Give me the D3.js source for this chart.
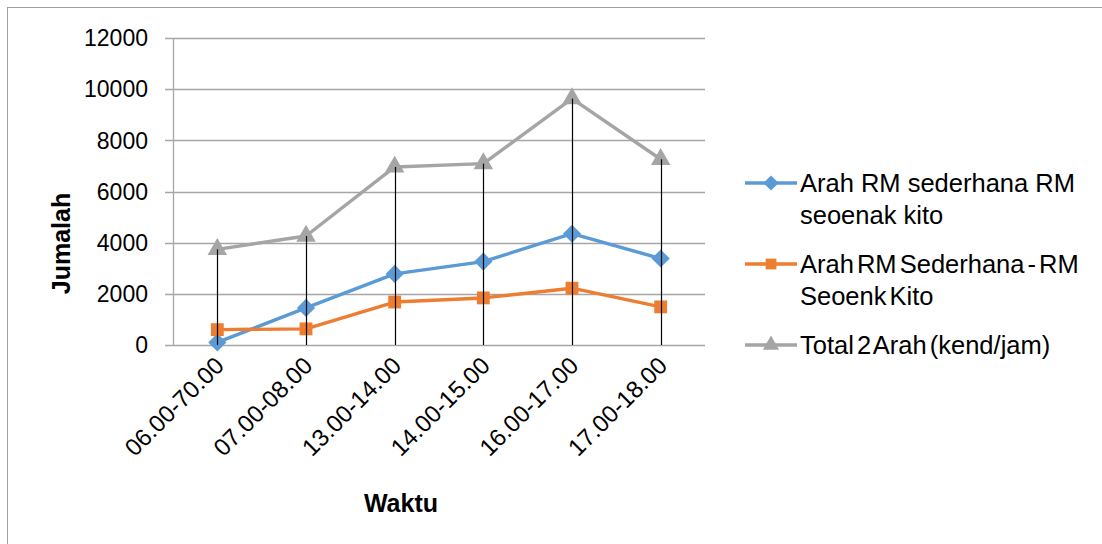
<!DOCTYPE html>
<html><head><meta charset="utf-8">
<script src="https://cdn.jsdelivr.net/npm/d3@7"></script>
<style>body{margin:0;background:#fff}svg{display:block;font-family:"Liberation Sans",Arial,sans-serif}</style>
</head><body><svg id="c" width="1102" height="544"></svg>
<script>
const categories = ["06.00-70.00","07.00-08.00","13.00-14.00","14.00-15.00","16.00-17.00","17.00-18.00"];
const seriesNames = ["Arah RM sederhana RM|seoenak kito","Arah RM Sederhana - RM|Seoenk Kito","Total 2 Arah (kend/jam)"];
const arahA = [100, 1450, 2780, 3260, 4350, 3380];
const arahB = [600, 630, 1680, 1840, 2220, 1490];
const total = [3740, 4260, 6960, 7090, 9630, 7260];
const yTicks = [0, 2000, 4000, 6000, 8000, 10000, 12000];
const colors = ["#5B9BD5", "#ED7D31", "#A5A5A5"];

const wideDiamond = { draw(ctx, size){ const r = Math.sqrt(size/2); ctx.moveTo(0,-r); ctx.lineTo(r,0); ctx.lineTo(0,r); ctx.lineTo(-r,0); ctx.closePath(); } };
const markers = [wideDiamond, d3.symbolSquare, d3.symbolTriangle];
const sizes = [165, 165, 165];

const svg = d3.select("#c");
const m = {l:173, r:705, t:38, b:345};
svg.append("rect").attr("x",7.5).attr("y",7.5).attr("width",1200).attr("height",600)
  .attr("fill","none").attr("stroke","#a0a0a0").attr("stroke-width",1);

const x = d3.scalePoint().domain(categories).range([m.l, m.r]).padding(0.5);
const y = d3.scaleLinear().domain([0,12000]).range([m.b, m.t]);

svg.append("g").selectAll("line").data(yTicks).join("line")
  .attr("x1", m.l-8).attr("x2", m.r)
  .attr("y1", d=>Math.round(y(d))+0.5).attr("y2", d=>Math.round(y(d))+0.5)
  .attr("stroke","#a6a6a6").attr("stroke-width",1.3);
svg.append("line").attr("x1",m.l+0.5).attr("x2",m.l+0.5).attr("y1",m.t).attr("y2",m.b)
  .attr("stroke","#a6a6a6").attr("stroke-width",1.3);

svg.append("g").selectAll("text").data(yTicks).join("text")
  .attr("x",148).attr("y",d=>y(d)).attr("dy","0.36em")
  .attr("text-anchor","end").attr("font-size",23).attr("fill","#000")
  .text(d=>d);

svg.append("g").selectAll("text").data(categories).join("text")
  .attr("transform", d=>`translate(${x(d)+8},${m.b+22}) rotate(-45)`)
  .attr("text-anchor","end").attr("font-size",24).attr("fill","#000")
  .text(d=>d);

svg.append("text").attr("transform",`translate(70,${(m.t+m.b)/2+52}) rotate(-90)`)
  .attr("text-anchor","middle").attr("font-size",25).attr("font-weight","bold").text("Jumalah");
svg.append("text").attr("x",401).attr("y",512).attr("text-anchor","middle")
  .attr("font-size",25).attr("font-weight","bold").text("Waktu");

const all = [arahA, arahB, total];
const line = d3.line().x((d,i)=>x(categories[i])).y(d=>y(d));
all.forEach((s,k)=>{
  svg.append("path").datum(s).attr("d",line).attr("fill","none")
    .attr("stroke",colors[k]).attr("stroke-width",3.4).attr("stroke-linejoin","round");
  svg.append("g").selectAll("path").data(s).join("path")
    .attr("transform",(d,i)=>`translate(${x(categories[i])},${y(d)})`)
    .attr("d", d3.symbol(markers[k], sizes[k])).attr("fill",colors[k]);
});

svg.append("g").selectAll("line").data(total).join("line")
  .attr("x1",(d,i)=>Math.round(x(categories[i]))+0.5).attr("x2",(d,i)=>Math.round(x(categories[i]))+0.5)
  .attr("y1",d=>y(d)).attr("y2",m.b).attr("stroke","#000").attr("stroke-width",1.2);

const lg = svg.append("g");
const ly = [183, 264, 345];
seriesNames.forEach((n,k)=>{
  const g = lg.append("g").attr("transform",`translate(0,${ly[k]})`);
  g.append("line").attr("x1",745).attr("x2",797).attr("y1",0).attr("y2",0)
    .attr("stroke",colors[k]).attr("stroke-width",3.4);
  g.append("path").attr("transform","translate(771,0)").attr("d",d3.symbol(markers[k],115)).attr("fill",colors[k]);
  const t = g.append("text").attr("x",800).attr("y",0).attr("font-size",25.5).attr("fill","#000")
    .attr("word-spacing", k===0 ? 0 : -4);
  n.split("|").forEach((p,j)=>{
    t.append("tspan").attr("x",800).attr("dy", j===0 ? "0.36em" : 32).text(p);
  });
});
</script></body></html>
